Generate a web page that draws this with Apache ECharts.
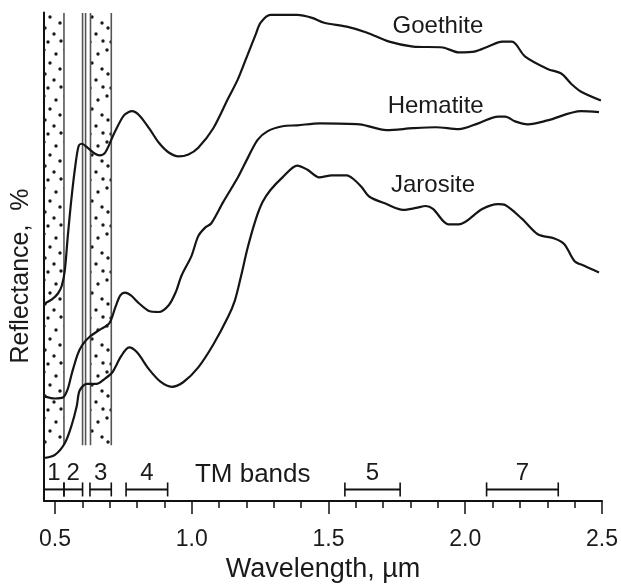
<!DOCTYPE html>
<html><head><meta charset="utf-8">
<script src="https://cdn.jsdelivr.net/npm/echarts@6/dist/echarts.min.js"></script>
<style>html,body{margin:0;padding:0;background:#fff}#c{width:621px;height:588px}</style>
</head><body><div id="c"></div>
<script>
// ---- data (wavelength in µm, reflectance in relative %) ----
const goethiteWl = [0.464,0.489,0.511,0.525,0.536,0.547,0.561,0.576,0.587,0.598,0.619,0.645,0.663,0.684,0.717,0.753,0.782,0.807,0.844,0.880,0.916,0.952,0.988,1.024,1.079,1.133,1.169,1.205,1.234,1.252,1.288,1.386,1.440,1.484,1.567,1.639,1.722,1.809,1.918,1.976,2.037,2.084,2.135,2.171,2.218,2.301,2.352,2.388,2.424,2.496];
const goethiteR  = [40.7,41.5,42.7,44.3,47.4,54.5,62.6,69.6,73.1,73.5,72.7,71.5,71.1,71.7,75.7,79.4,80.2,79.4,76.7,73.7,71.7,70.9,71.3,72.7,76.7,82.8,86.8,91.9,96.0,98.4,100,100,99.4,98.4,97.6,96.4,94.5,93.5,93.3,92.3,92.5,93.5,94.5,94.5,91.5,88.9,87.9,85.8,84.2,82.4];

const hematiteWl = [0.464,0.500,0.529,0.547,0.561,0.583,0.601,0.627,0.663,0.699,0.721,0.739,0.757,0.778,0.807,0.844,0.880,0.916,0.941,0.963,0.999,1.024,1.050,1.071,1.115,1.169,1.205,1.241,1.278,1.332,1.386,1.469,1.614,1.712,1.809,1.892,1.976,2.048,2.120,2.146,2.182,2.229,2.301,2.424,2.489];
const hematiteR  = [21.5,21.1,21.3,23.1,26.1,30.2,32.2,33.8,35.2,36.6,39.9,42.3,42.9,42.3,40.7,39.1,38.9,40.3,42.9,46.4,50.4,54.5,56.3,57.1,61.5,66.6,70.6,74.3,76.1,77.1,77.3,77.7,77.5,76.3,76.7,76.9,76.5,77.7,79.1,79.1,78.1,77.5,78.3,80.2,80.0];

const jarositeWl = [0.464,0.500,0.536,0.561,0.580,0.590,0.616,0.652,0.681,0.710,0.742,0.771,0.800,0.844,0.887,0.927,0.970,1.024,1.079,1.133,1.158,1.180,1.205,1.234,1.259,1.288,1.332,1.386,1.422,1.466,1.513,1.567,1.592,1.621,1.650,1.712,1.773,1.820,1.856,1.882,1.939,1.976,2.062,2.120,2.146,2.207,2.265,2.326,2.363,2.399,2.435,2.489];
const jarositeR  = [8.9,9.5,11.9,15.6,19.6,22.7,24.1,24.1,25.1,26.5,29.8,31.6,30.6,27.1,24.5,23.5,24.5,27.5,32.2,37.9,41.3,46.2,52.2,57.9,61.5,64.0,66.6,69.0,68.2,66.6,67.0,67.0,66.2,64.6,62.6,61.1,59.9,60.3,60.7,60.1,56.9,56.9,60.1,61.1,60.9,58.1,54.9,54.0,52.8,49.4,48.4,47.0];

const seriesNames = ['Goethite','Hematite','Jarosite'];

// Landsat TM bands shown under the curves
const tmBandNames = ['1','2','3','4','5','7'];
const tmBandStart = [0.46,0.533,0.628,0.76,1.56,2.078];
const tmBandEnd   = [0.533,0.601,0.706,0.912,1.762,2.34];

// vertical band strips at the top left
const stippledStart = [0.46,0.630];
const stippledEnd   = [0.533,0.706];
const stripLines    = [0.533,0.601,0.612,0.630,0.706];

const xMajorTicks = [0.5,1.0,1.5,2.0,2.5];
const xMinorTicks = [0.5,0.6,0.7,0.8,0.9,1.0,1.1,1.2,1.3,1.4,1.5,1.6,1.7,1.8,1.9,2.0,2.1,2.2,2.3,2.4,2.5];

// ---- layout constants ----
const X_MIN = 0.46, X_MAX = 2.5, Y_MAX = 100.5;
const STRIP_TOP = 100.4, STRIP_BOTTOM = 11.5, TM_BAR_Y = 2.4;
const FONT = '"Liberation Sans", Arial, Helvetica, sans-serif';

// stipple pattern
const pat = document.createElement('canvas');
pat.width = 21; pat.height = 46;
(function(){
  const g = pat.getContext('2d');
  g.fillStyle = '#1a1a1a';
  const dots = [[2,4],[14,8],[8,17],[18,23],[3,28],[12,34],[6,42],[19,41]];
  dots.forEach(d => { g.beginPath(); g.arc(d[0], d[1], 1.7, 0, Math.PI*2); g.fill(); });
})();
const patternFill = {type:'pattern', image: pat, repeat: 'repeat'};

const chart = echarts.init(document.getElementById('c'), null, {renderer:'canvas'});

function zip(a, b){ return a.map((v,i)=>[v, b[i]]); }

const lineStyle = {color:'#151515', width:2.2};

const option = {
  animation: false,
  backgroundColor: '#fff',
  textStyle: {fontFamily: FONT},
  grid: {left:44, right:14, top:12.5, bottom:79, containLabel:false},
  xAxis: [
    {
      type:'value', min:X_MIN, max:X_MAX,
      axisLine:{show:true, lineStyle:{color:'#111', width:2}},
      axisTick:{show:true, customValues:xMinorTicks, length:7, lineStyle:{color:'#111', width:1.5}},
      axisLabel:{show:false},
      splitLine:{show:false}
    },
    {
      type:'value', min:X_MIN, max:X_MAX, position:'bottom', gridIndex:0,
      axisLine:{show:false},
      axisTick:{show:true, customValues:xMajorTicks, length:13, lineStyle:{color:'#111', width:1.5}},
      axisLabel:{show:true, customValues:xMajorTicks, margin:27, color:'#1a1a1a', fontSize:23, fontFamily:FONT,
        formatter: v => v.toFixed(1)},
      splitLine:{show:false},
      name:'Wavelength, \u00b5m', nameLocation:'middle', nameGap:51,
      nameTextStyle:{fontSize:27, color:'#1a1a1a', fontFamily:FONT}
    }
  ],
  yAxis: {
    type:'value', min:0, max:Y_MAX,
    axisLine:{show:true, lineStyle:{color:'#111', width:2}},
    axisTick:{show:false}, axisLabel:{show:false}, splitLine:{show:false}
  },
  graphic: [
    {type:'text', x:21, y:276, rotation:Math.PI/2,
     style:{text:'Reflectance,  %', font:'25px ' + FONT, fill:'#1a1a1a', align:'center', verticalAlign:'middle'}}
  ],
  series: [
    { // stippled strips
      type:'custom', xAxisIndex:0, z:1, silent:true,
      data: zip(stippledStart, stippledEnd),
      renderItem: (params, api) => {
        const a = api.coord([api.value(0), STRIP_TOP]);
        const b = api.coord([api.value(1), STRIP_BOTTOM]);
        return {type:'rect', shape:{x:a[0], y:a[1], width:b[0]-a[0], height:b[1]-a[1]},
                style:{fill: patternFill}};
      }
    },
    { // strip border lines
      type:'custom', xAxisIndex:0, z:2, silent:true,
      data: stripLines.map(v=>[v]),
      renderItem: (params, api) => {
        const a = api.coord([api.value(0), STRIP_TOP]);
        const b = api.coord([api.value(0), STRIP_BOTTOM]);
        return {type:'line', shape:{x1:a[0], y1:a[1], x2:b[0], y2:b[1]},
                style:{stroke:'#555', lineWidth:1.6}};
      }
    },
    { // TM band bars
      type:'custom', xAxisIndex:0, z:3, silent:true,
      data: tmBandStart.map((s,i)=>[s, tmBandEnd[i]]),
      renderItem: (params, api) => {
        const a = api.coord([api.value(0), TM_BAR_Y]);
        const b = api.coord([api.value(1), TM_BAR_Y]);
        const st = {stroke:'#111', lineWidth:2};
        return {type:'group', children:[
          {type:'line', shape:{x1:a[0], y1:a[1], x2:b[0], y2:b[1]}, style:st},
          {type:'line', shape:{x1:a[0], y1:a[1]-7, x2:a[0], y2:a[1]+7}, style:{stroke:'#111', lineWidth:1.6}},
          {type:'line', shape:{x1:b[0], y1:b[1]-7, x2:b[0], y2:b[1]+7}, style:{stroke:'#111', lineWidth:1.6}},
          {type:'text', x:(a[0]+b[0])/2, y:a[1]-16,
           style:{text: tmBandNames[params.dataIndex], font:'24px ' + FONT, fill:'#1a1a1a', align:'center', verticalAlign:'middle'}}
        ]};
      }
    },
    { // annotation texts
      type:'custom', xAxisIndex:0, z:4, silent:true,
      data: [[1.900, 97.6],[1.892, 81.2],[1.882, 65.0],[1.223, 5.5]],
      renderItem: (params, api) => {
        const p = api.coord([api.value(0), api.value(1)]);
        const txt = params.dataIndex < 3 ? seriesNames[params.dataIndex] : 'TM bands';
        return {type:'text', x:p[0], y:p[1],
          style:{text: txt, font:(params.dataIndex<3?'24px ':'26px ') + FONT, fill:'#1a1a1a', align:'center', verticalAlign:'middle'}};
      }
    },
    {name:seriesNames[0], type:'line', xAxisIndex:0, z:5, data: zip(goethiteWl, goethiteR), smooth:0.3, showSymbol:false, lineStyle},
    {name:seriesNames[1], type:'line', xAxisIndex:0, z:5, data: zip(hematiteWl, hematiteR), smooth:0.3, showSymbol:false, lineStyle},
    {name:seriesNames[2], type:'line', xAxisIndex:0, z:5, data: zip(jarositeWl, jarositeR), smooth:0.3, showSymbol:false, lineStyle}
  ]
};
chart.setOption(option);
</script>
</body></html>
